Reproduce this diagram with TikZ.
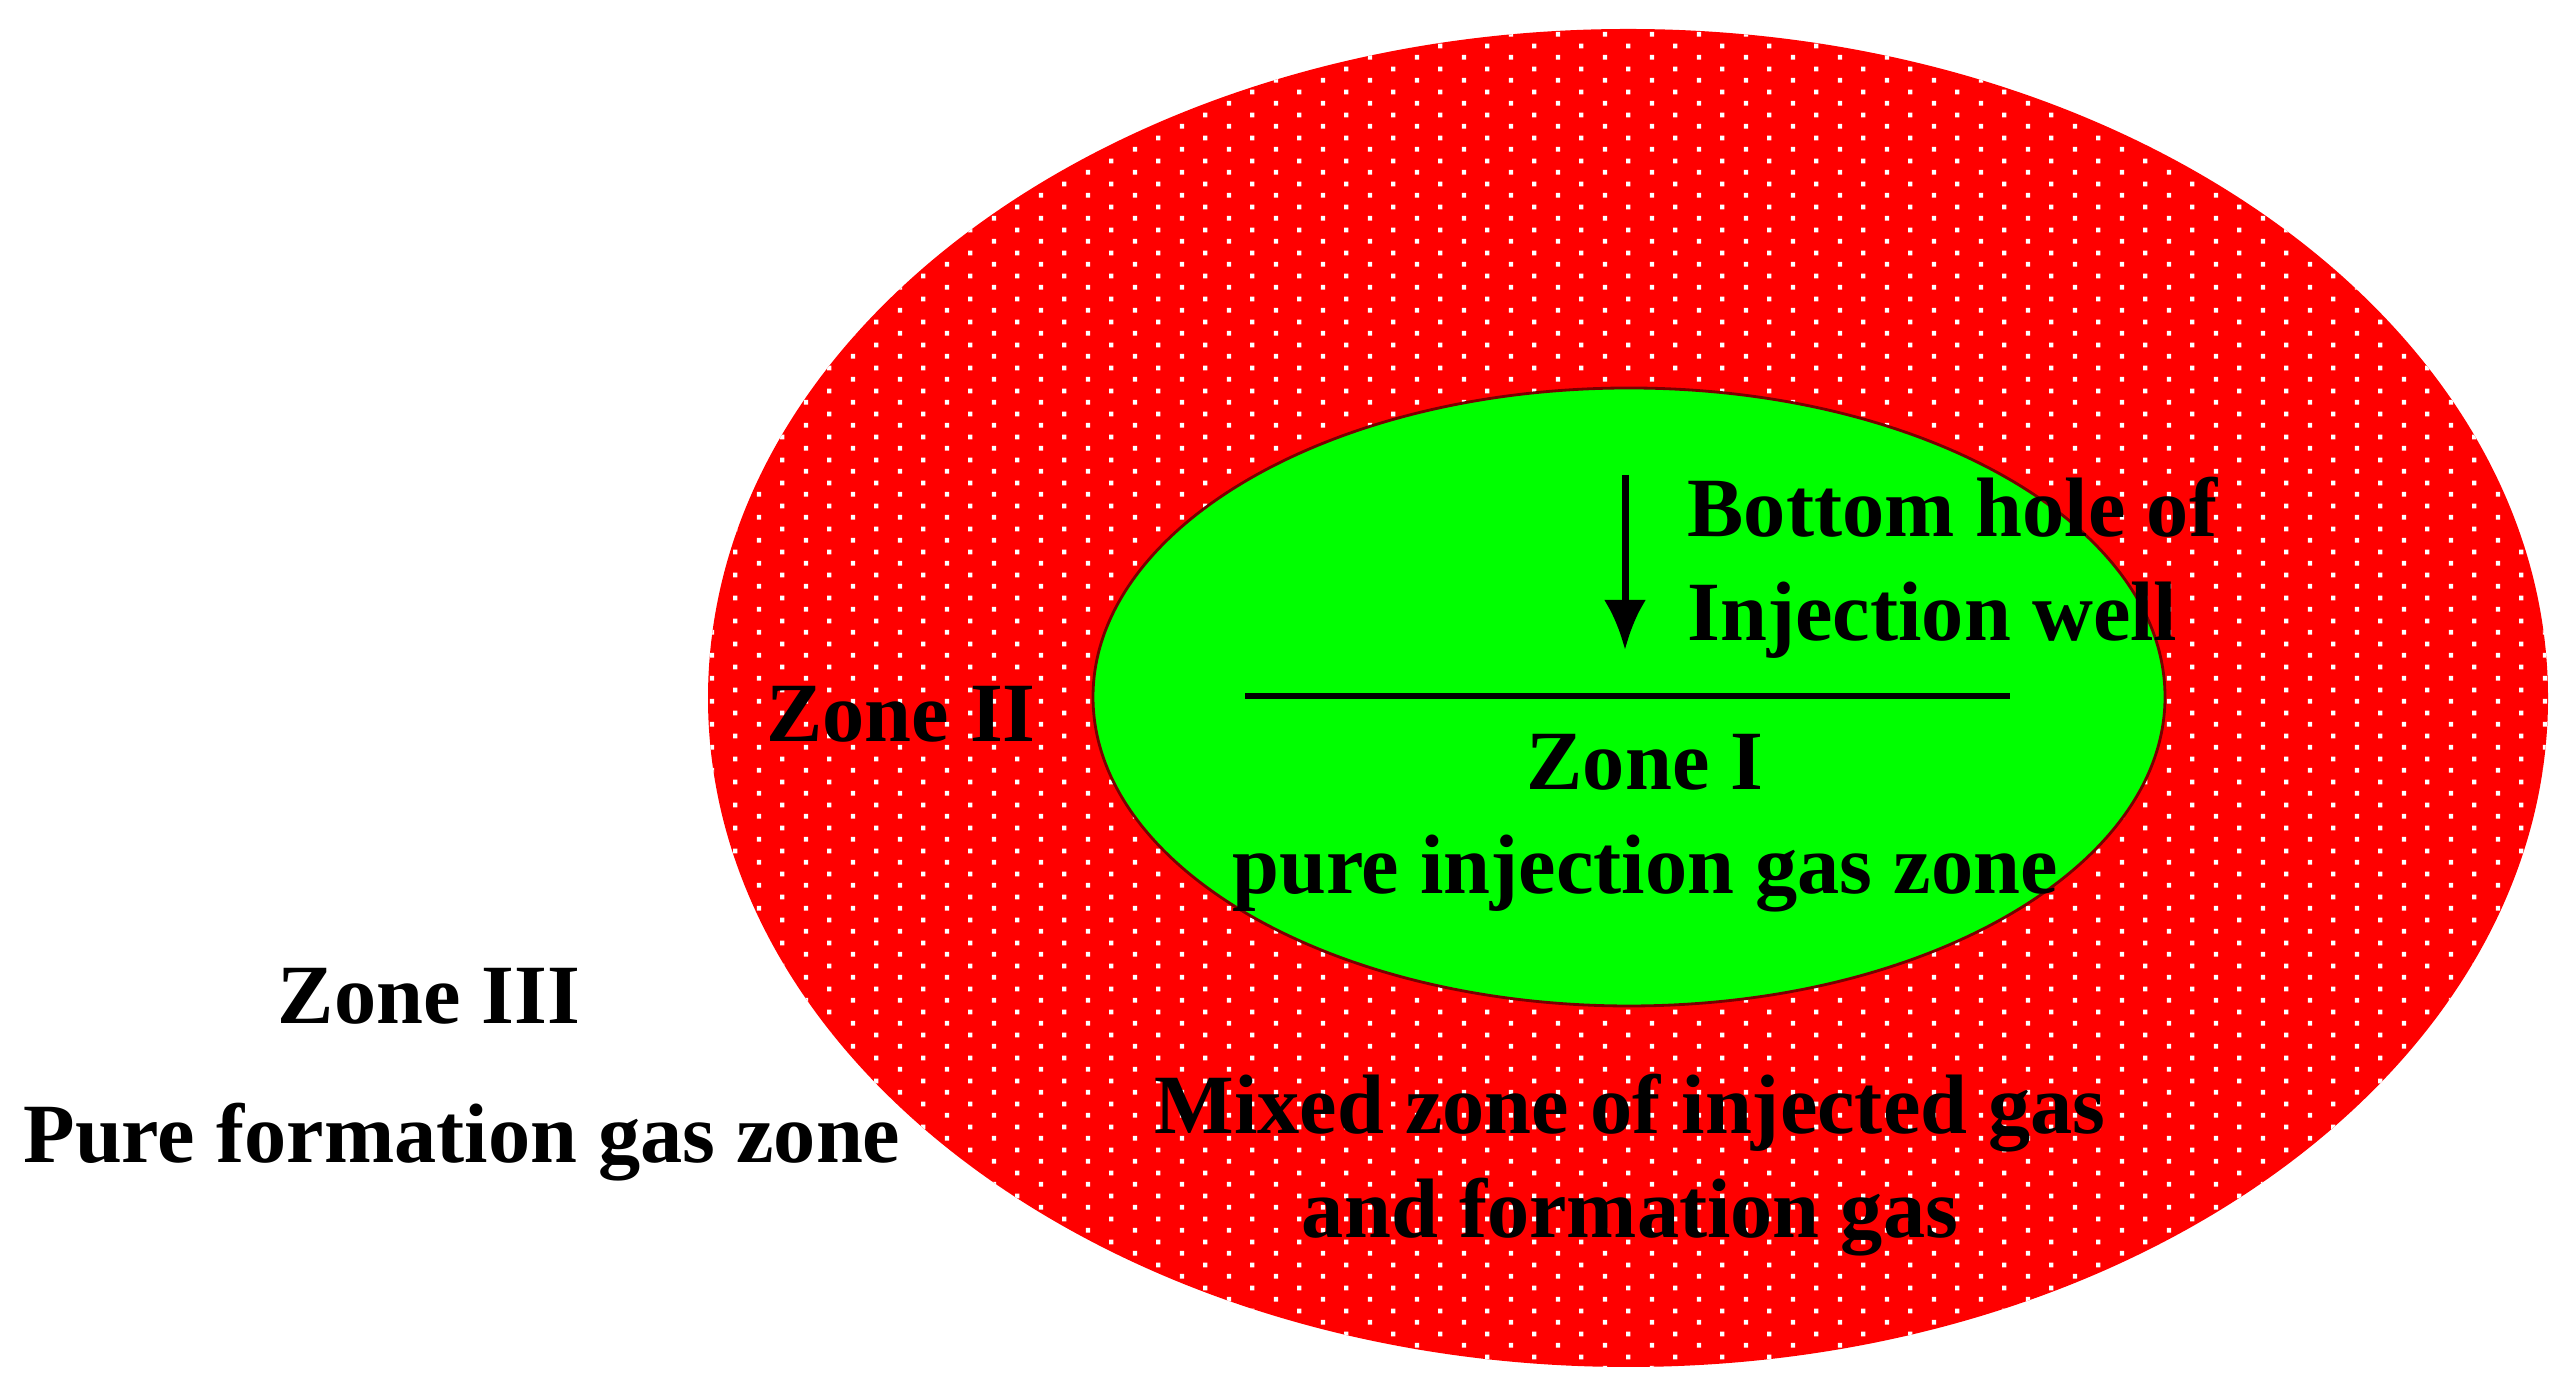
\documentclass[tikz,border=0pt]{standalone}
\usepackage{fontspec}
\setmainfont{Liberation Serif}
\usepackage{tikz}
\usetikzlibrary{shapes.geometric,patterns,arrows.meta}

\definecolor{zonered}{RGB}{255,0,0}
\definecolor{zonegreen}{RGB}{0,255,0}
\definecolor{rimred}{RGB}{120,0,0}

\pgfdeclarepatternformonly{zonedots}{\pgfpointorigin}{\pgfpoint{4.67mm}{2.33mm}}{\pgfpoint{4.67mm}{2.33mm}}{%
	\pgfpathrectangle{\pgfpoint{1.0mm}{0.45mm}}{\pgfpoint{0.42mm}{0.5mm}}
	\pgfpathrectangle{\pgfpoint{3.33mm}{1.6mm}}{\pgfpoint{0.42mm}{0.5mm}}
	\pgfusepath{fill}
}

\begin{document}
\begin{tikzpicture}
	
	\tikzstyle{zone_outer} = [ellipse, inner sep=0pt, fill=zonered, postaction={pattern=zonedots, pattern color=white}]
	\tikzstyle{zone_inner} = [ellipse, inner sep=0pt, fill=zonegreen, draw=rimred, line width=0.8pt]
	\tikzstyle{label} = [font=\fontsize{24}{29.5}\selectfont\bfseries, inner sep=0pt]
	%\tikzstyle{label} = [font=\Large\bfseries]
	\tikzstyle{well} = [-{Latex[length=5mm, width=4.2mm]}, line width=2pt]

	\useasboundingbox (0,0) rectangle (25.69,13.98);
%------------------------------------------------------------
	\node[zone_outer, minimum width=18.4cm, minimum height=13.38cm] (z2) at (16.28,7.00) {};
	\node[zone_inner, minimum width=10.72cm, minimum height=6.18cm] (z1) at (16.29,7.01) {};
%------------------------------------------------------------
	\coordinate (wl) at (12.45,7.02);
	\coordinate (wr) at (20.10,7.02);
	\coordinate (wtop) at (16.25,9.23);
	\coordinate (wbot) at (16.25,7.48);
	
	\draw[line width=1.7pt] (wl) -- (wr);
	\draw[well] (wtop) -- (wbot);
%------------------------------------------------------------
	\node[label, anchor=west, align=left] (hole) at (16.87,8.30) {Bottom hole of\\Injection well};
	\node[label, align=center] (t1) at (16.45,5.75) {Zone I\\pure injection gas zone};
	\node[label] (t2) at (9.01,6.84) {Zone II};
	\node[label, align=center] (t2b) at (16.30,2.33) {Mixed zone of injected gas\\and formation gas};
%------------------------------------------------------------
	\node[label] (t3) at (4.29,4.02) {Zone III};
	\node[label] (t3b) at (4.62,2.56) {Pure formation gas zone};

\end{tikzpicture}
\end{document}
